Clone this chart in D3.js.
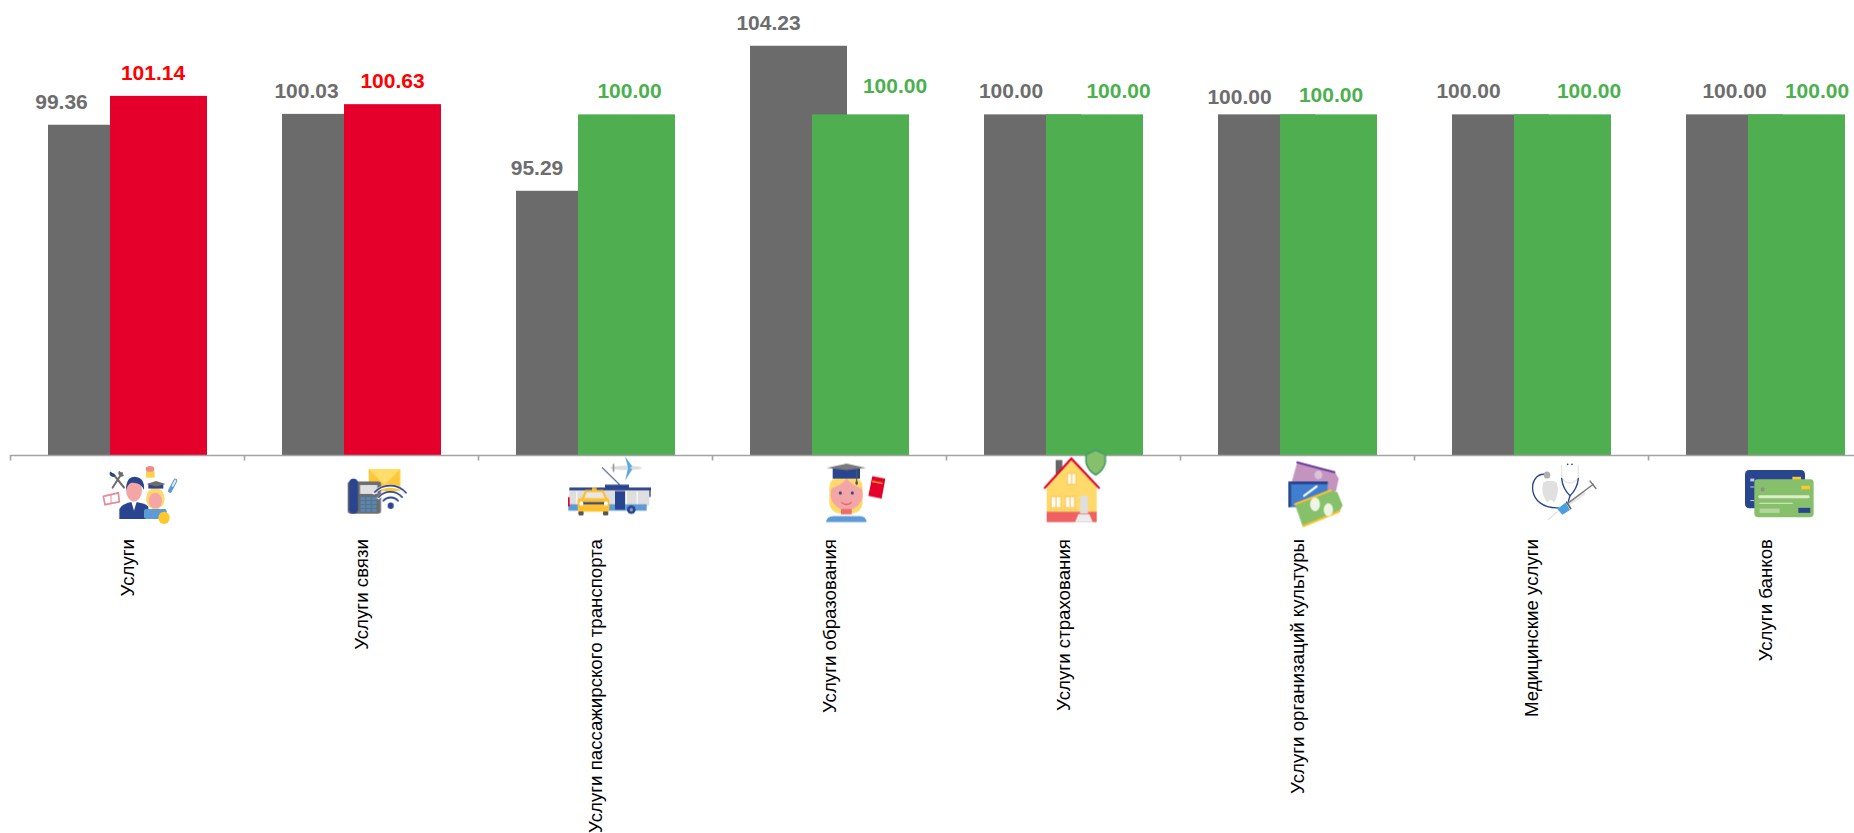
<!DOCTYPE html>
<html lang="ru">
<head>
<meta charset="utf-8">
<script src="https://cdn.jsdelivr.net/npm/d3@7"></script>
<style>
  html, body { margin: 0; padding: 0; background: #fff; }
  svg { display: block; }
  text { font-family: "Liberation Sans", Arial, sans-serif; }
  .axis .domain, .axis line { stroke: #a3a3a3; stroke-width: 1.6; }
</style>
</head>
<body>
<div id="chart-container"></div>
<script>
// Data
const categories = ["Услуги", "Услуги связи", "Услуги пассажирского транспорта", "Услуги образования",
    "Услуги страхования", "Услуги организаций культуры", "Медицинские услуги", "Услуги банков"];
const previous = [99.36, 100.03, 95.29, 104.23, 100.00, 100.00, 100.00, 100.00];
const current = [101.14, 100.63, 100.00, 100.00, 100.00, 100.00, 100.00, 100.00];

// Hand placed value labels, relative to the top centre of their bar
const previousNudge = [[-35, -16], [-24, -16], [-27.5, -16], [-30, -16], [-21.5, -16], [-27, -10.5], [-32, -16], [0, -16]];
const currentNudge = [[-5.5, -16], [0, -16], [3, -16], [34.5, -21], [24, -16], [2.5, -12.5], [26.5, -16], [20.5, -16]];

const width = 1854, height = 833;
const axisY = 455;
const barWidth = 97;

const svg = d3.select('#chart-container').append('svg')
    .attr('width', width)
    .attr('height', height);

// soft edges for the small pictograms
svg.append('defs').append('filter')
    .attr('id', 'soft')
    .append('feGaussianBlur')
    .attr('stdDeviation', 0.45);

const xScale = d3.scaleBand()
    .domain(categories)
    .range([10, 10 + 234 * categories.length]);

const yScale = d3.scaleLinear()
    .domain([79, 105])
    .range([axisY, axisY - 26 * 16.22]);

// left edge of each series inside its band
const previousX = d => xScale(d) + 38;
const currentX = d => xScale(d) + 100;
const rising = v => v > 100;

// Bars
svg.selectAll('.bar-prev')
    .data(categories)
    .enter().append('rect')
    .attr('class', 'bar-prev')
    .attr('x', previousX)
    .attr('y', (d, i) => yScale(previous[i]))
    .attr('width', barWidth)
    .attr('height', (d, i) => axisY - yScale(previous[i]))
    .attr('fill', '#6b6b6b');

svg.selectAll('.bar-cur')
    .data(categories)
    .enter().append('rect')
    .attr('class', 'bar-cur')
    .attr('x', currentX)
    .attr('y', (d, i) => yScale(current[i]))
    .attr('width', barWidth)
    .attr('height', (d, i) => axisY - yScale(current[i]))
    .attr('fill', (d, i) => rising(current[i]) ? '#e4002b' : '#4faf50');

// Axis with ticks between the categories
const edgeScale = d3.scaleLinear()
    .domain([0, categories.length])
    .range(xScale.range());

svg.append('g')
    .attr('class', 'axis')
    .attr('transform', `translate(0, ${axisY})`)
    .call(d3.axisBottom(edgeScale).ticks(categories.length).tickSize(5.5).tickSizeOuter(0).tickFormat(''));

// Value labels
svg.selectAll('.label-prev')
    .data(categories)
    .enter().append('text')
    .attr('class', 'label-prev')
    .attr('x', (d, i) => previousX(d) + barWidth / 2 + previousNudge[i][0])
    .attr('y', (d, i) => yScale(previous[i]) + previousNudge[i][1])
    .attr('text-anchor', 'middle')
    .attr('font-size', 21)
    .attr('font-weight', 'bold')
    .attr('fill', '#6d6d6d')
    .text((d, i) => previous[i].toFixed(2));

svg.selectAll('.label-cur')
    .data(categories)
    .enter().append('text')
    .attr('class', 'label-cur')
    .attr('x', (d, i) => currentX(d) + barWidth / 2 + currentNudge[i][0])
    .attr('y', (d, i) => yScale(current[i]) + currentNudge[i][1])
    .attr('text-anchor', 'middle')
    .attr('font-size', 21)
    .attr('font-weight', 'bold')
    .attr('fill', (d, i) => rising(current[i]) ? '#ff0000' : '#4cb04f')
    .text((d, i) => current[i].toFixed(2));

// Category names, turned on their side
svg.selectAll('.cat')
    .data(categories)
    .enter().append('text')
    .attr('class', 'cat')
    .attr('transform', d => `translate(${xScale(d) + xScale.bandwidth() / 2 + 7}, 539) rotate(-90)`)
    .attr('text-anchor', 'end')
    .attr('font-size', 18.7)
    .attr('fill', '#000')
    .text(d => d);

// Pictograms. Each one is drawn in its own coordinates, then squeezed into place.
const navy = '#2b4590', blue = '#5b9bd5', skin = '#f4a6a6', blond = '#ffd96a', lime = '#86c06a', grey = '#6d6d6d';
const R = (x, y, w, h, fill, rx) => ['rect', {x, y, width: w, height: h, fill, rx: rx || 0}];
const E = (cx, cy, rx, ry, fill) => ['ellipse', {cx, cy, rx, ry, fill}];
const P = (d, fill, stroke, sw) => ['path', {d, fill: fill || 'none', stroke: stroke || 'none', 'stroke-width': sw || 0, 'stroke-linecap': 'round'}];

const keypad = d3.range(12).map(k => R(1082 + (k % 3) * 17, 1392 + Math.floor(k / 3) * 11, 13, 8, '#4a8cc8'));

const icons = [
  [0, [
    P('M340 1328L372 1365', null, grey, 6), P('M366 1325L338 1365', null, grey, 6),
    P('M331 1320a9 9 0 1 0 16 11z', navy), P('M358 1318a9 9 0 1 0 14 13z', grey),
    P('M310 1390L355 1380L358 1405L315 1413Z', '#fff', '#e48b9a', 5),
    P('M333 1385V1408', null, '#e48b9a', 3),
    P('M358 1453V1425Q365 1410 400 1405Q435 1408 445 1418V1453Z', navy),
    P('M394 1405H410L402 1430Z', '#fff'),
    E(402, 1372, 24, 32, skin),
    P('M378 1372Q378 1335 405 1335Q435 1338 432 1372Q422 1350 395 1352Q384 1355 378 1372Z', navy),
    E(466, 1396, 28, 30, blond), E(466, 1402, 20, 22, skin),
    R(445, 1355, 45, 13, navy), P('M440 1355L468 1347L497 1355L468 1362Z', grey),
    R(432, 1425, 68, 28, blue, 6), E(492, 1450, 17, 17, '#ffc72c'),
    R(438, 1318, 26, 20, '#ffd24d', 3), E(450, 1313, 13, 8, '#f08a8a'),
    P('M526 1346L510 1374', null, blue, 12), P('M526 1346L518 1360', null, '#dfe9f3', 6)
  ]],
  [0, [
    R(1106, 1313, 95, 62, '#ffc838'), P('M1106 1313H1201L1153 1358Z', '#ffdd6a'),
    R(1043, 1348, 100, 90, grey, 8), R(1047, 1340, 27, 98, navy, 12),
    R(1080, 1358, 52, 25, '#e0e0e0'), ...keypad,
    P('M1122 1380A64 56 0 0 1 1218 1380', null, '#fff', 9), P('M1135 1394A46 40 0 0 1 1207 1394', null, '#fff', 8),
    P('M1124 1378A60 52 0 0 1 1218 1380', null, navy, 5), P('M1136 1392A44 38 0 0 1 1206 1392', null, navy, 5),
    P('M1150 1402A28 24 0 0 1 1194 1402', null, navy, 5), E(1172, 1416, 9, 9, navy)
  ]],
  [500, [
    P('M307 1310L360 1358', null, navy, 3),
    E(378, 1310, 48, 6, '#dcdcdc'), P('M375 1278L397 1306L385 1312Z', '#5ba8e0'), P('M375 1346L397 1314L385 1308Z', '#5ba8e0'),
    R(338, 1299, 5, 22, '#9a9a9a'),
    R(315, 1357, 72, 10, navy), R(208, 1372, 240, 44, '#dedede'), R(208, 1365, 245, 8, navy),
    R(205, 1412, 235, 18, blue), R(345, 1375, 30, 52, navy),
    R(378, 1376, 3, 36, '#fff'), R(410, 1376, 3, 36, '#fff'), R(229, 1376, 3, 36, '#fff'),
    E(394, 1427, 13, 12, navy), E(394, 1427, 5, 5, '#8a9cc8'),
    P('M450 1368V1390', null, navy, 4), R(204, 1392, 5, 26, '#e4002b'),
    P('M243 1398L256 1372H310L323 1398Z', '#ffc02e'), P('M252 1396L260 1378H306L315 1396Z', '#e8e8e8'),
    R(276, 1366, 14, 7, '#ffc02e'),
    R(233, 1395, 95, 38, '#ffc02e', 8), R(248, 1406, 64, 6, navy), E(244, 1410, 6, 6, '#fff'), E(318, 1410, 6, 6, '#fff'),
    R(235, 1432, 16, 11, '#555', 3), R(309, 1432, 16, 11, '#555', 3)
  ]],
  [500, [
    R(988, 1335, 100, 102, blond, 30), E(1040, 1384, 48, 44, skin),
    P('M990 1368Q1000 1345 1040 1338Q1080 1345 1088 1368Q1060 1362 1040 1340Q1020 1362 990 1368Z', blond),
    R(998, 1310, 82, 30, navy), P('M980 1310L1040 1298L1098 1310L1040 1316Z', '#7a7a7a'),
    P('M1070 1314V1350', null, '#555', 3), E(1070, 1352, 4, 6, '#555'),
    E(1021, 1380, 4.5, 4.5, navy), E(1057, 1380, 4.5, 4.5, navy),
    P('M1025 1407Q1040 1418 1054 1407', null, '#e4405a', 3),
    R(1023, 1425, 32, 15, '#ef6b6b'),
    P('M978 1462Q980 1445 1000 1445H1080Q1098 1445 1100 1462Z', blue),
    P('M1117 1333L1156 1340L1145 1396L1105 1388Z', '#e4002b'), P('M1118 1348L1146 1353', null, '#ffc72c', 4)
  ]],
  [1000, [
    R(167, 1288, 20, 40, '#666'),
    P('M140 1362L214 1287L290 1362V1440H140Z', blond),
    R(140, 1433, 150, 29, '#ef6060'),
    R(202, 1325, 26, 32, '#fff'), R(153, 1390, 30, 32, '#fff'), R(196, 1390, 28, 32, '#fff'),
    P('M202 1325h26v32h-26zM215 1325v32', null, '#ffc95a', 4), P('M153 1390h30v32h-30zM168 1390v32', null, '#ffc95a', 4),
    P('M196 1390h28v32h-28zM210 1390v32', null, '#ffc95a', 4),
    R(240, 1388, 24, 50, '#dedede'), P('M225 1462H278L268 1440H235Z', '#ececec'),
    P('M134 1366L214 1284L297 1366', null, '#e4002b', 6),
    P('M258 1273L287 1260L316 1273V1295Q310 1318 287 1330Q264 1318 258 1295Z', lime, '#4a9e6a', 5)
  ]],
  [1000, [
    P('M892 1293L1005 1322L1016 1340L1008 1375L900 1380L875 1350Z', '#c394be'),
    P('M892 1295L1003 1322', null, '#6a3b9c', 6), E(955, 1330, 12, 12, '#dcc3da'),
    R(865, 1348, 118, 72, '#3f7fcf'), R(865, 1348, 118, 8, navy), R(865, 1356, 8, 64, navy),
    P('M912 1388L950 1362', null, '#fff', 6),
    P('M885 1413L992 1373L1012 1378L1028 1415L1018 1432L908 1474Z', lime),
    P('M885 1412L992 1373', null, '#ffc02e', 6), P('M910 1473L1018 1432', null, '#ffc02e', 6),
    E(945, 1412, 15, 19, '#eef5e4'), E(985, 1427, 14, 18, '#eef5e4')
  ]],
  [1450, [
    P('M284 1328C232 1325 228 1425 325 1422', null, navy, 4), E(291, 1330, 10, 10, '#b0b0b0'),
    P('M280 1350Q300 1342 320 1350Q330 1380 312 1408Q302 1392 292 1408Q270 1380 280 1350Z', '#e0e0e0'),
    P('M335 1303V1340Q360 1365 385 1340V1303', null, '#e6e6e6', 4),
    P('M335 1340Q338 1368 360 1388Q382 1368 385 1340', null, navy, 4), P('M360 1388L355 1404', null, navy, 4),
    E(353, 1300, 2.5, 2.5, navy), E(366, 1300, 2.5, 2.5, navy),
    P('M360 1408L402 1382', null, '#e8e8e8', 10), P('M430 1356L352 1410', null, '#777', 4), P('M420 1347L438 1368', null, '#777', 4),
    P('M322 1425L347 1407L360 1428L337 1441Z', '#4a9fe0'), P('M350 1406L362 1424', null, '#666', 5),
    P('M322 1433L295 1455', null, '#ddd', 3)
  ]],
  [1450, [
    R(885, 1316, 180, 107, navy, 12), R(1027, 1335, 26, 14, '#ffc72c'),
    R(901, 1340, 12, 8, '#bfc8de'), R(901, 1362, 12, 3, '#bfc8de'), R(901, 1400, 12, 3, '#bfc8de'),
    R(913, 1342, 178, 106, lime, 10), R(1054, 1360, 26, 10, '#ffc72c'), R(1045, 1422, 36, 14, navy),
    E(938, 1371, 6, 6, '#8d8d8d'),
    P('M929 1391H1075', null, '#dfeccc', 8), P('M929 1409H1027', null, '#dfeccc', 3), R(929, 1424, 60, 12, '#b4d69c')
  ]]
];

const iconLayer = svg.append('g').attr('class', 'icons').attr('filter', 'url(#soft)');
icons.forEach(([ox, shapes]) => {
    const g = iconLayer.append('g').attr('transform', `translate(${ox},0) scale(${1 / 3},${1 / 2.8})`);
    shapes.forEach(([tag, attrs]) => {
        const el = g.append(tag);
        Object.entries(attrs).forEach(([k, v]) => el.attr(k, v));
    });
});
</script>
</body>
</html>
